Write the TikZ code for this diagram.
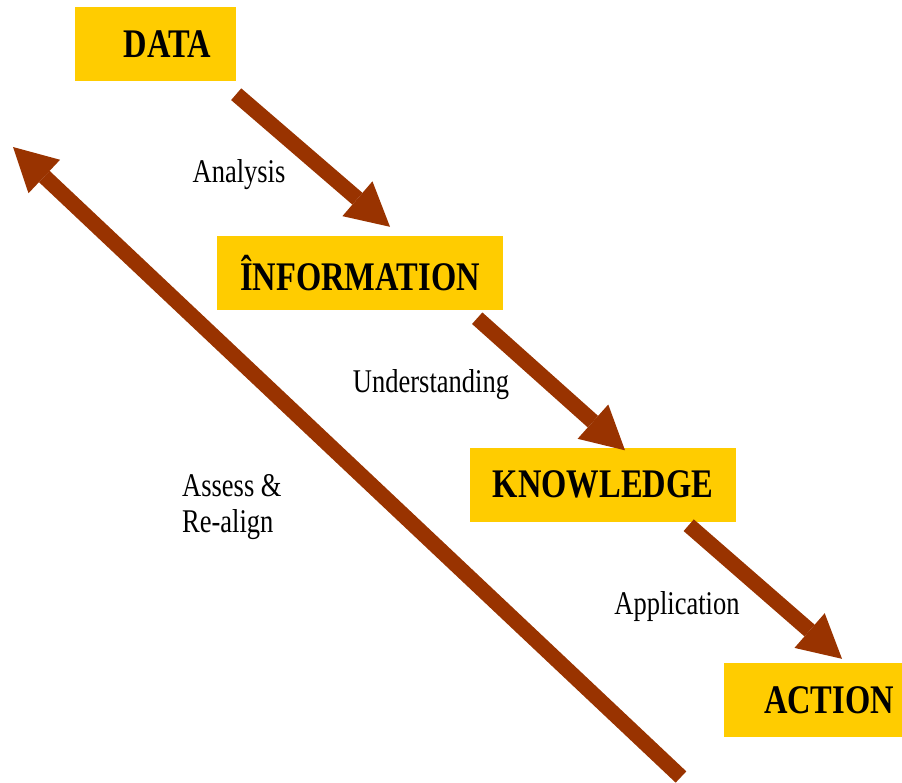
\documentclass[tikz,border=0pt]{standalone}
\usepackage{fontspec}
\setmainfont{Liberation Serif}
\usepackage{tikz}
\usetikzlibrary{arrows.meta, positioning, calc}
\definecolor{dikwgold}{RGB}{255,204,0}
\definecolor{dikwbrown}{RGB}{153,51,0}
\newcommand{\tallword}[1]{\scalebox{1}[1.25]{#1}}

\begin{document}
\begin{tikzpicture}[x=1pt, y=-1pt,
  stage/.style={fill=dikwgold, minimum height=74pt, inner sep=0pt, font=\fontsize{32.5}{36}\selectfont\bfseries},
  flow/.style={draw=dikwbrown, line width=15.5pt, -{Triangle[length=43pt, width=46pt, line width=0pt]}},
  lbl/.style={font=\fontsize{26.5}{36}\selectfont, inner sep=0pt}]
  \useasboundingbox (0,0) rectangle (902,782);
  % Stages down the staircase
  \node[stage, minimum width=161pt] (data) at (155.5,44) {\tallword{\hspace{24pt}DATA}};
  \node[stage, minimum width=286pt] (info) at (360,273) {\tallword{ÎNFORMATION}};
  \node[stage, minimum width=266pt] (know) at (603,484.5) {\tallword{KNOWLEDGE}};
  \node[stage, minimum width=178pt] (action) at (813,700) {\tallword{\hspace{32pt}ACTION}};
  % Steps between the stages
  \draw[flow] ($(data.south east)+(0,13)$) -- ($(info.north)+(30,-9)$);
  \draw[flow] ($(info.south east)+(-26,8)$) -- ($(know.north)+(22,3)$);
  \draw[flow] ($(know.south east)+(-47.5,3.5)$) -- ($(action.north)+(29,-4)$);
  % Feedback arrow back to the top
  \coordinate (backtail) at (681,777);
  \coordinate (backtip) at (13,147);
  \draw[flow] (backtail) -- (backtip);
  % Step labels
  \node[lbl] (analysis) at (239,175) {\tallword{Analysis}};
  \node[lbl] (underst) at (431,385) {\tallword{Understanding}};
  \node[lbl] (applic) at (677,607) {\tallword{Application}};
  \node[lbl, anchor=west, align=left] (assess) at (182,507) {\tallword{Assess \&}\\\tallword{Re-align}};
\end{tikzpicture}
\end{document}
